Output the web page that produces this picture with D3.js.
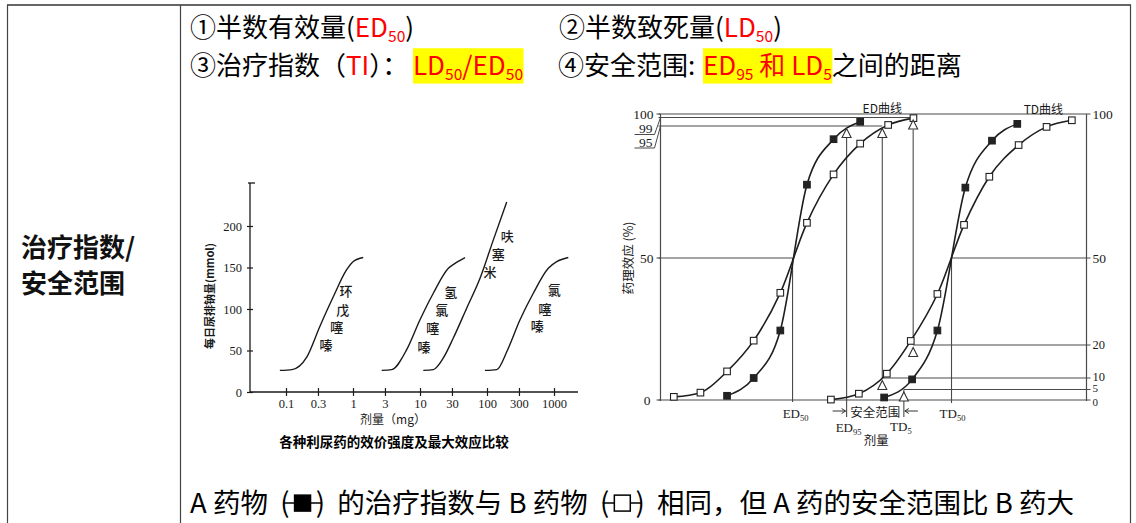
<!DOCTYPE html>
<html><head><meta charset="utf-8">
<script src="https://cdn.jsdelivr.net/npm/d3@7"></script>
<style>body{margin:0;background:#fff;}svg{display:block}text{white-space:pre}</style>
</head><body>
<svg id="c" width="1136" height="523"></svg>
<script>
// ===== Left chart data (利尿药) =====
const doseTicks = [0.1, 0.3, 1, 3, 10, 30, 100, 300, 1000];
const naTicks = [0, 50, 100, 150, 200];
const cyclopenthiazideDose = [0.081, 0.123, 0.204, 0.32, 0.51, 0.80, 1.0, 1.42];
const cyclopenthiazideNa   = [26, 27, 42, 79, 115, 147, 157, 162];
const hydrochlorothiazideDose = [2.68, 3.78, 6.33, 10, 15.8, 26.5, 33.3, 47];
const hydrochlorothiazideNa   = [26, 27, 51, 87, 119, 149, 155, 162];
const furosemideDose = [11.2, 15.8, 22.3, 31.4, 49.7, 78.7, 124, 197];
const furosemideNa   = [26, 27, 41, 65, 101, 137, 183, 229];
const chlorothiazideDose = [93, 140, 201, 311, 491, 822, 1097, 1634];
const chlorothiazideNa   = [26, 27, 50, 87, 119, 149, 157, 162];
// drug name labels: characters with anchor (dose, value)
const labelChars = ["环","戊","噻","嗪", "氢","氯","噻","嗪", "呋","塞","米", "氯","噻","嗪"];
const labelDose  = [0.787, 0.702, 0.571, 0.395, 28.7, 21.1, 15.5, 11.5, 201, 147.5, 111, 1010, 735, 563];
const labelNa    = [122, 99.6, 78.7, 57.5, 120.8, 98.8, 78, 55.4, 189, 167, 145, 123, 101, 80.7];

// ===== Right chart data (ED / TD curves) =====
const edA_dose = [2.5, 3.5, 4.5, 5.5, 6.5, 7.5];
const edA_eff  = [2, 10, 25, 75, 90.5, 97];
const edB_dose = [0.5, 1.5, 2.5, 3.5, 4.5, 5.5, 6.5, 7.5, 8.55, 9.5];
const edB_eff  = [1.5, 3.5, 12, 21.5, 38, 62, 78.5, 89, 95.5, 98.7];
const tdA_dose = [8.4, 9.45, 10.4, 11.45, 12.45, 13.4];
const tdA_eff  = [1.2, 9.4, 25, 74, 90, 96];
const tdB_dose = [6.4, 7.45, 8.5, 9.4, 10.4, 11.4, 12.35, 13.45, 14.5, 15.45];
const tdB_eff  = [0.2, 3, 11.3, 21.4, 37.6, 61.3, 77.7, 88.5, 94.7, 97.7];
const ED50 = 4.96, TD50 = 10.93, EDA95 = 6.99, EDB95 = 8.33, EDB99 = 9.49, TDA5 = 9.14;
const rightLevelLabels = [100, 50, 20, 10, 5, 0];
const markerLevels = [[EDA95,95],[EDB95,95],[EDB99,99],[EDB95,10],[EDB99,20],[TDA5,5]];

// ===== Text =====
const cellTitle = ["治疗指数/", "安全范围"];
const chartTitle = "各种利尿药的效价强度及最大效应比较";

const svg = d3.select("#c");
const F = "'Noto Sans CJK SC','Noto Sans',sans-serif";
const SERIF = "'Liberation Serif','DejaVu Serif',serif";
const RED = "#ff0000";
svg.append("rect").attr("width",1136).attr("height",523).attr("fill","#fff");

// ---- table frame ----
const tb = svg.append("g").attr("fill","none");
tb.append("line").attr("x1",7).attr("x2",1131).attr("y1",5).attr("y2",5).attr("stroke","#666").attr("stroke-width",2);
[7.5,180.5,1130.5].forEach(x=>tb.append("line").attr("x1",x).attr("x2",x).attr("y1",5).attr("y2",523).attr("stroke","#444").attr("stroke-width",1.2));

cellTitle.forEach((t,i)=>svg.append("text").attr("x",21).attr("y",257+i*36).attr("font-family",F)
  .attr("font-size",26).attr("font-weight",700).attr("fill","#111").text(t));

// ---- run-of-text layout helper ----
const hlLayer = svg.append("g");
const txtLayer = svg.append("g");
function runLine(x, y, size, segs){
  let cx = x;
  segs.forEach(s=>{
    if(s.at!==undefined) cx = s.at;
    if(s.marker){
      const g = txtLayer.append("g");
      const p1 = g.append("text").attr("x",cx).attr("y",y).attr("font-family",F).attr("font-size",size).text("(");
      const w1 = p1.node().getComputedTextLength();
      const W = size*0.95;
      const cy = y - size*0.36;
      g.append("line").attr("x1",cx+w1*0.3).attr("x2",cx+w1+W+w1*0.7).attr("y1",cy).attr("y2",cy).attr("stroke","#000").attr("stroke-width",1.5);
      const sq = size*0.58;
      g.append("rect").attr("x",cx+w1+W/2-sq/2).attr("y",cy-sq/2).attr("width",sq).attr("height",sq)
        .attr("fill",s.marker==="filled"?"#000":"#fff").attr("stroke","#000").attr("stroke-width",1.5);
      g.append("text").attr("x",cx+w1+W).attr("y",y).attr("font-family",F).attr("font-size",size).text(")");
      cx += w1*2 + W;
      return;
    }
    const fs = s.sub ? size*0.6 : size;
    const t = txtLayer.append("text").attr("x",cx).attr("y",y+(s.sub?size*0.18:0))
      .attr("font-family",F).attr("font-size",fs).attr("fill",s.c||"#000").text(s.t);
    const w = t.node().getComputedTextLength();
    if(s.hl) hlLayer.append("rect").attr("x",cx).attr("y",y-size*1.03).attr("width",w+0.5).attr("height",size*1.36).attr("fill","#ffff00");
    cx += w;
  });
}
const FS = 26;
runLine(190, 37, FS, [{t:"①半数有效量("},{t:"ED",c:RED},{t:"50",c:RED,sub:1},{t:")"}]);
runLine(559, 37, FS, [{t:"②半数致死量("},{t:"LD",c:RED},{t:"50",c:RED,sub:1},{t:")"}]);
runLine(190, 75, FS, [{t:"③治疗指数（"},{t:"TI",c:RED},{t:"）："},
  {t:"LD",c:RED,hl:1,at:413},{t:"50",c:RED,sub:1,hl:1},{t:"/ED",c:RED,hl:1},{t:"50",c:RED,sub:1,hl:1}]);
runLine(558, 75, FS, [{t:"④安全范围: "},{t:"ED",c:RED,hl:1,at:703},{t:"95",c:RED,sub:1,hl:1},{t:" 和 LD",c:RED,hl:1},{t:"5",c:RED,sub:1,hl:1},{t:"之间的距离"}]);
runLine(190, 513, 27.5, [{t:"A 药物  "},{marker:"filled"},{t:"  的治疗指数与 B 药物  "},{marker:"hollow"},{t:"  相同，但 A 药的安全范围比 B 药大"}]);

// ================= LEFT CHART =================
const INK = "#1a1a1a";
const L = svg.append("g");
const xL = d3.scaleLog().domain([0.1,1000]).range([286,554]);
const yL = d3.scaleLinear().domain([0,200]).range([392,226]);
const xLmin = xL.invert(250), xLmax = xL.invert(578), yLmax = yL.invert(183);
L.append("line").attr("x1",xL(xLmin)).attr("x2",xL(xLmax)).attr("y1",yL(0)).attr("y2",yL(0)).attr("stroke",INK).attr("stroke-width",1.3);
L.append("line").attr("x1",xL(xLmin)).attr("x2",xL(xLmin)).attr("y1",yL(0)).attr("y2",yL(yLmax)).attr("stroke",INK).attr("stroke-width",1.3);
L.append("line").attr("x1",xL(xLmin)-2).attr("x2",xL(xLmin)+5).attr("y1",yL(yLmax)).attr("y2",yL(yLmax)).attr("stroke",INK).attr("stroke-width",1.3);
const yAx = L.append("g").attr("transform",`translate(${xL(xLmin)},0)`)
  .call(d3.axisLeft(yL).tickValues(naTicks).tickSize(3).tickPadding(5).tickSizeOuter(0));
yAx.select(".domain").remove();
yAx.selectAll(".tick line").attr("x1",3).attr("stroke",INK).attr("stroke-width",1.2);
yAx.selectAll(".tick text").attr("font-family",SERIF).attr("font-size",12.5).attr("fill",INK);
const xAx = L.append("g").attr("transform",`translate(0,${yL(0)})`)
  .call(d3.axisBottom(xL).tickValues(doseTicks).tickFormat(d=>String(d)).tickSize(4).tickPadding(3).tickSizeOuter(0));
xAx.select(".domain").remove();
xAx.selectAll(".tick line").attr("y1",-4).attr("stroke",INK).attr("stroke-width",1.2);
xAx.selectAll(".tick text").attr("font-family",SERIF).attr("font-size",12.5).attr("fill",INK);

const lineL = d3.line().x(d=>xL(d[0])).y(d=>yL(d[1])).curve(d3.curveMonotoneX);
[[cyclopenthiazideDose,cyclopenthiazideNa],[hydrochlorothiazideDose,hydrochlorothiazideNa],
 [furosemideDose,furosemideNa],[chlorothiazideDose,chlorothiazideNa]].forEach(([ds,vs])=>{
  L.append("path").attr("d",lineL(d3.zip(ds,vs))).attr("fill","none").attr("stroke",INK).attr("stroke-width",1.4);
});
labelChars.forEach((c,i)=>L.append("text").attr("x",xL(labelDose[i])).attr("y",yL(labelNa[i]))
  .attr("text-anchor","middle").attr("dominant-baseline","central").attr("font-family",F)
  .attr("font-size",13).attr("font-weight",500).attr("fill",INK).text(c));
L.append("text").attr("transform",`translate(209,296) rotate(-90)`).attr("text-anchor","middle").attr("dominant-baseline","central")
  .attr("font-family",F).attr("font-size",11).attr("font-weight",700).attr("fill",INK).text("每日尿排钠量(mmol)");
L.append("text").attr("x",393).attr("y",424).attr("text-anchor","middle").attr("font-family",F)
  .attr("font-size",12).attr("fill",INK).text("剂量（mg）");
L.append("text").attr("x",394).attr("y",447).attr("text-anchor","middle").attr("font-family",F)
  .attr("font-size",13.5).attr("font-weight",700).attr("fill","#000").text(chartTitle);

// ================= RIGHT CHART =================
const R = svg.append("g");
const xR = d3.scaleLinear().domain([0,16]).range([660.5,1086.5]);
const yR = d3.scaleLinear().domain([0,5,10,20,50,95,99,100]).range([400,389.5,378,345,258,126,117.5,114]);
const REF = "#4a4a4a";
function seg(x1,y1,x2,y2,w){R.append("line").attr("x1",x1).attr("x2",x2).attr("y1",y1).attr("y2",y2).attr("stroke",REF).attr("stroke-width",w||1);}
seg(xR(0),yR(100),xR(0),yR(0)+1,1.2);
seg(xR(16),yR(100),xR(16),yR(0)+1,1.2);
[[100,0,16],[99,0,EDB99],[95,0,EDB95],[50,0,ED50],[50,TD50,16],[20,EDB99,16],[10,EDB95,16],[5,TDA5,16],[0,0,16]]
  .forEach(([l,a,b])=>seg(xR(a)-(a===0?2:0),yR(l),xR(b),yR(l),1.1));
[[ED50,50,0,2],[TD50,50,0,3],[EDA95,95,0,17],[TDA5,5,0,17],[EDB95,95,10,0],[EDB99,99,20,0]]
  .forEach(([u,a,b,ext])=>seg(xR(u),yR(a)+(a>=95?12:0),xR(u),yR(b)+ext,1.1));
rightLevelLabels.forEach(l=>seg(xR(16),yR(l),xR(16)+4,yR(l),1));
[100,50,0].forEach(l=>seg(xR(0)-4,yR(l),xR(0),yR(l),1));
const lineR = d3.line().x(d=>xR(d[0])).y(d=>yR(d[1])).curve(d3.curveMonotoneX);
const curves = [[edA_dose,edA_eff,"filled"],[edB_dose,edB_eff,"hollow"],[tdA_dose,tdA_eff,"filled"],[tdB_dose,tdB_eff,"hollow"]];
curves.forEach(([ds,vs])=>R.append("path").attr("d",lineR(d3.zip(ds,vs))).attr("fill","none").attr("stroke","#1e1e1e").attr("stroke-width",1.6));
curves.forEach(([ds,vs,kind])=>{
  R.selectAll(null).data(d3.zip(ds,vs)).join("rect")
    .attr("x",d=>xR(d[0])-3.3).attr("y",d=>yR(d[1])-3.3).attr("width",6.6).attr("height",6.6)
    .attr("fill",kind==="filled"?"#222":"#fff").attr("stroke","#222").attr("stroke-width",1.1);
});
R.selectAll(null).data(markerLevels).join("path")
  .attr("d",d=>{const x=xR(d[0]), y=yR(d[1])+2.5; return `M${x},${y}L${x+4.5},${y+9}L${x-4.5},${y+9}Z`;})
  .attr("fill","#fff").attr("stroke","#333").attr("stroke-width",1.1);
function lab(x,y,t,anchor,size,fam){return R.append("text").attr("x",x).attr("y",y).attr("text-anchor",anchor).attr("dominant-baseline","central")
  .attr("font-family",fam||SERIF).attr("font-size",size||13).attr("fill","#1a1a1a").text(t);}
const rOff = {100:0, 50:0, 20:0, 10:-1, 5:-1.5, 0:1.5};
rightLevelLabels.forEach(l=>lab(xR(16)+6,yR(l)+rOff[l],String(l),"start",l>=50?13.5:(l>=10?12.5:11)));
lab(xR(0)-7,yR(100),"100","end",13.5);
lab(xR(0)-8,yR(99)+11,"99","end",13.5);
lab(xR(0)-8,yR(95)+16,"95","end",13.5);
lab(xR(0)-7,yR(50),"50","end",13.5);
lab(xR(0)-10,yR(0),"0","end",13.5);
[[99,17],[95,22]].forEach(([l,off])=>{
  const y0=yR(l)+off;
  R.append("path").attr("d",`M${xR(0)-26},${y0}L${xR(0)-6},${y0}L${xR(0)},${yR(l)}`).attr("fill","none").attr("stroke",REF).attr("stroke-width",1);
});
lab(xR(EDB95),yR(100)-7,"ED曲线","middle",12,F);
lab(xR(14.38),yR(100)-6,"TD曲线","middle",12,F);
R.append("text").attr("transform",`translate(627,258) rotate(-90)`).attr("text-anchor","middle").attr("dominant-baseline","central")
  .attr("font-family",F).attr("font-size",12.5).attr("fill","#1a1a1a").text("药理效应 (%)");
function subLab(x,y,main,sub){
  const t=R.append("text").attr("x",x).attr("y",y).attr("text-anchor","middle").attr("font-family",SERIF).attr("font-size",13).attr("fill","#1a1a1a");
  t.append("tspan").text(main);
  t.append("tspan").attr("font-size",8.5).attr("dy",3).text(sub);
}
subLab(xR(ED50)+3,418,"ED","50");
subLab(xR(TD50)+1,418,"TD","50");
subLab(xR(EDA95)+2,432,"ED","95");
subLab(xR(TDA5)-3,431,"TD","5");
lab((xR(EDA95)+xR(TDA5))/2,411,"安全范围","middle",12.5,F);
lab((xR(EDA95)+xR(TDA5))/2+1,439,"剂量","middle",12.5,F);
const ay = 411;
R.append("path").attr("d",`M${xR(EDA95)-14},${ay}L${xR(EDA95)-1},${ay}M${xR(EDA95)-5},${ay-2.5}L${xR(EDA95)-1},${ay}L${xR(EDA95)-5},${ay+2.5}`).attr("fill","none").attr("stroke","#333").attr("stroke-width",1);
R.append("path").attr("d",`M${xR(TDA5)+14},${ay}L${xR(TDA5)+1},${ay}M${xR(TDA5)+5},${ay-2.5}L${xR(TDA5)+1},${ay}L${xR(TDA5)+5},${ay+2.5}`).attr("fill","none").attr("stroke","#333").attr("stroke-width",1);
</script>
</body></html>
